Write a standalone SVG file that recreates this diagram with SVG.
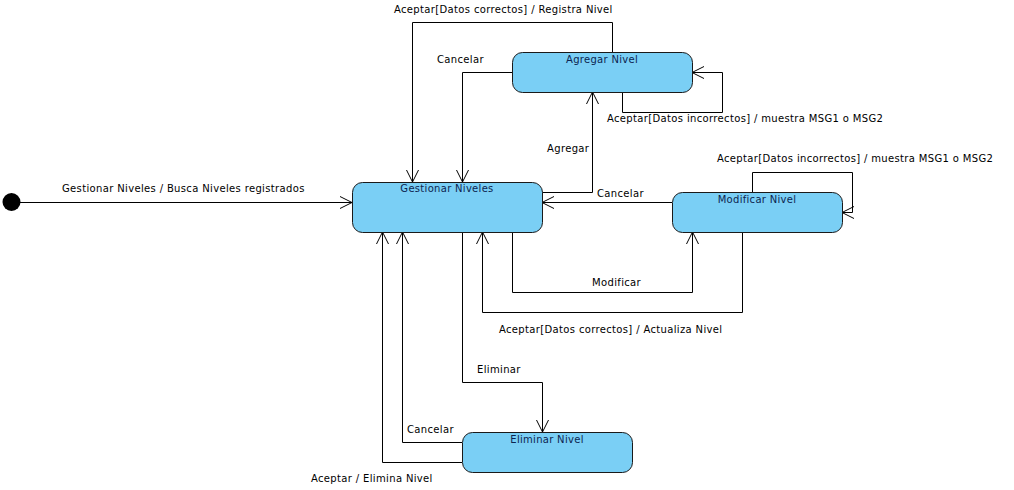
<svg xmlns="http://www.w3.org/2000/svg" width="1014" height="490" viewBox="0 0 1014 490">
<style>
.node{fill:#7acff5;stroke:#1a1a1a;stroke-width:1}
.title{font-family:"DejaVu Sans",sans-serif;font-size:10px;fill:#0d2550;text-anchor:middle;letter-spacing:0.3px}
.lbl{font-family:"DejaVu Sans",sans-serif;font-size:10px;fill:#000;letter-spacing:0.35px}
.edge{fill:none;stroke:#000;stroke-width:1;marker-end:url(#arr)}
</style>
<defs>
<marker id="arr" viewBox="-14 -8 16 16" refX="0" refY="0" markerWidth="16" markerHeight="16" markerUnits="userSpaceOnUse" orient="auto">
<path d="M-12,-6 L0,0 L-12,6" fill="none" stroke="#000" stroke-width="1"/>
</marker>
</defs>
<rect width="1014" height="490" fill="#fff"/>
<g id="connectors">
<path class="edge" d="M20,202.5 H352"/>
<path class="edge" d="M612.5,52 V22.5 H412.5 V182"/>
<path class="edge" d="M512,72.5 H462.5 V182"/>
<path class="edge" d="M622.5,92 V112.5 H722.5 V72.5 H692"/>
<path class="edge" d="M542,192.5 H592.5 V92"/>
<path class="edge" d="M672,202.5 H542"/>
<path class="edge" d="M752.5,192 V172.5 H852.5 V212.5 H842"/>
<path class="edge" d="M512.5,232 V292.5 H692.5 V232"/>
<path class="edge" d="M742.5,232 V312.5 H482.5 V232"/>
<path class="edge" d="M462.5,232 V382.5 H542.5 V432"/>
<path class="edge" d="M462,442.5 H402.5 V232"/>
<path class="edge" d="M462,462.5 H382.5 V232"/>
<text class="lbl" x="62" y="192">Gestionar Niveles / Busca Niveles registrados</text>
<text class="lbl" x="394" y="13">Aceptar[Datos correctos] / Registra Nivel</text>
<text class="lbl" x="437" y="63">Cancelar</text>
<text class="lbl" x="607" y="122">Aceptar[Datos incorrectos] / muestra MSG1 o MSG2</text>
<text class="lbl" x="547" y="152">Agregar</text>
<text class="lbl" x="717" y="162">Aceptar[Datos incorrectos] / muestra MSG1 o MSG2</text>
<text class="lbl" x="597" y="197">Cancelar</text>
<text class="lbl" x="592" y="286">Modificar</text>
<text class="lbl" x="499" y="333">Aceptar[Datos correctos] / Actualiza Nivel</text>
<text class="lbl" x="477" y="373">Eliminar</text>
<text class="lbl" x="407" y="433">Cancelar</text>
<text class="lbl" x="311" y="482">Aceptar / Elimina Nivel</text>
</g>
<g id="initial">
<circle cx="11.5" cy="202" r="9" fill="#000"/>
</g>
<g id="agregar">
<rect class="node" x="512.5" y="52.5" width="180" height="40" rx="10"/>
<text class="title" x="602" y="63">Agregar Nivel</text>
</g>
<g id="gestionar">
<rect class="node" x="352.5" y="182.5" width="190" height="50" rx="10"/>
<text class="title" x="447" y="192">Gestionar Niveles</text>
</g>
<g id="modificar">
<rect class="node" x="672.5" y="192.5" width="170" height="40" rx="10"/>
<text class="title" x="757" y="203">Modificar Nivel</text>
</g>
<g id="eliminar">
<rect class="node" x="462.5" y="432.5" width="170" height="40" rx="10"/>
<text class="title" x="547" y="443">Eliminar Nivel</text>
</g>
</svg>
